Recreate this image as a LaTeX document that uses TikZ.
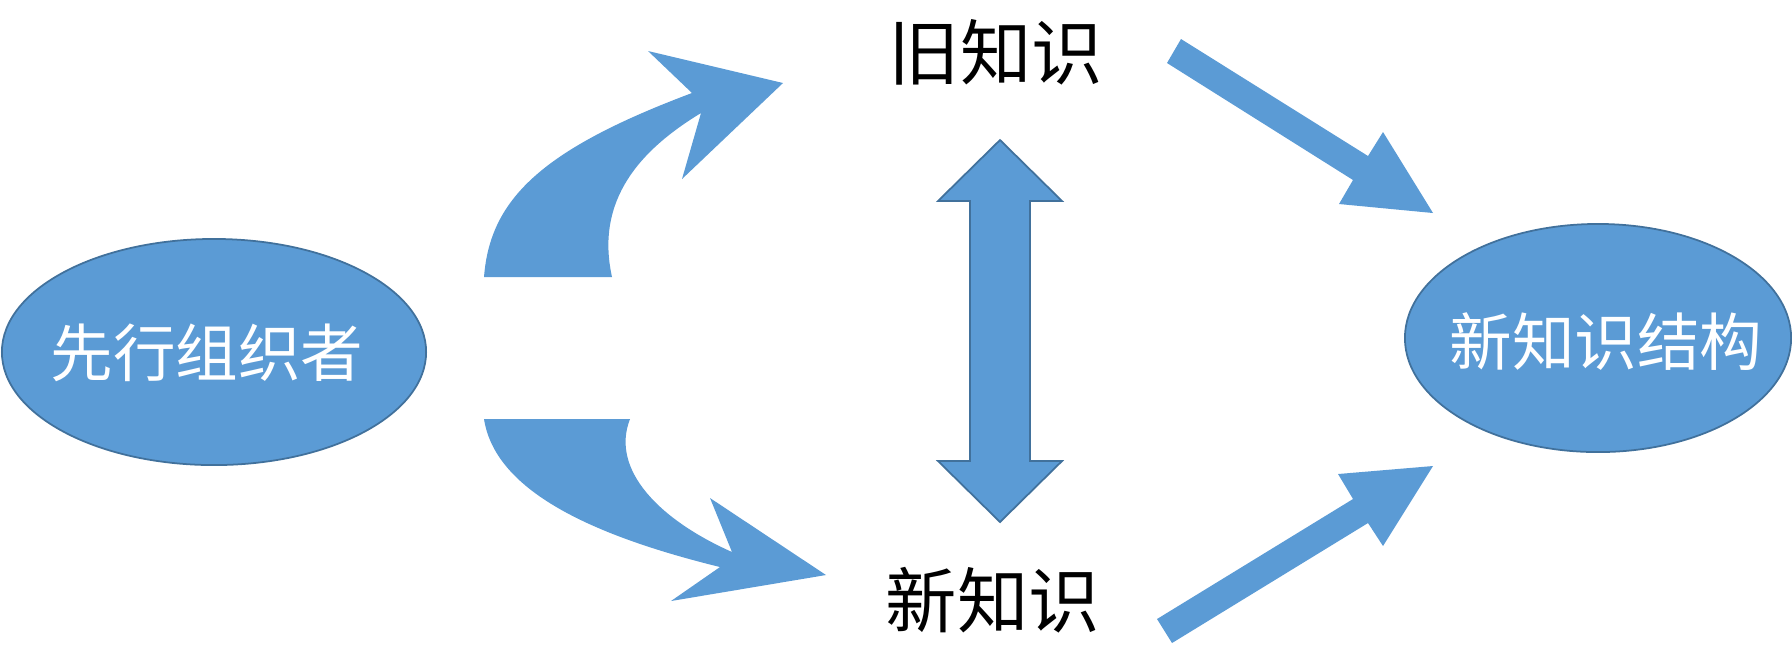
\documentclass[tikz,border=0pt]{standalone}
\usepackage{fontspec}
\newfontfamily\cjk{Noto Sans CJK SC}
\usetikzlibrary{shapes.geometric}
\definecolor{officeblue}{HTML}{5B9BD5}
\definecolor{officeedge}{HTML}{41719C}
\tikzset{
  blob/.style={ellipse, fill=officeblue, draw=officeedge, line width=0.5pt, inner sep=0pt},
  blobtext/.style={inner sep=0pt, text=white, font=\cjk\fontsize{17.8pt}{20pt}\selectfont},
  label/.style={inner sep=0pt, text=black, font=\cjk\fontsize{20.3pt}{22pt}\selectfont},
  blockarrow/.style={fill=officeblue},
  outlined/.style={fill=officeblue, draw=officeedge, line width=0.5pt, line join=miter}
}
\begin{document}
\begin{tikzpicture}[x=0.01cm,y=-0.01cm]
\useasboundingbox (0,0) rectangle (1792,653);
% ellipses
\node[blob, minimum width=4.24cm, minimum height=2.26cm] (org) at (214,352) {};
\node[blobtext] (orgtext) at (207,353) {先行组织者};
\node[blob, minimum width=3.86cm, minimum height=2.28cm] (newstruct) at (1598,338) {};
\node[blobtext] (newstructtext) at (1606,342) {新知识结构};
% labels
\node[label] (old) at (996,52) {旧知识};
\node[label] (new) at (993,600) {新知识};
% upper curved arrow
\path[blockarrow] (484,277) .. controls (490,200) and (540,150) .. (692,93)
  -- (648,51) -- (783,83) -- (682,179) -- (701,113)
  .. controls (640,150) and (595,200) .. (612,277) -- cycle;
% lower curved arrow
\path[blockarrow] (484,419) .. controls (495,490) and (590,535) .. (720,567)
  -- (671,601) -- (826,575) -- (710,498) -- (732,552)
  .. controls (660,520) and (610,470) .. (630,419) -- cycle;
% vertical double arrow
\draw[outlined] (1000,140) -- (1062,201) -- (1030,201) -- (1030,461) -- (1062,461)
  -- (1000,522) -- (938,461) -- (970,461) -- (970,201) -- (938,201) -- cycle;
% upper right arrow
\path[blockarrow] (1181,39) -- (1368,156) -- (1383,132) -- (1433,213) -- (1339,204)
  -- (1353,180) -- (1167,63) -- cycle;
% lower right arrow
\path[blockarrow] (1157,619) -- (1353,499) -- (1338,474) -- (1433,466) -- (1383,546)
  -- (1368,523) -- (1172,643) -- cycle;
\end{tikzpicture}
\end{document}
